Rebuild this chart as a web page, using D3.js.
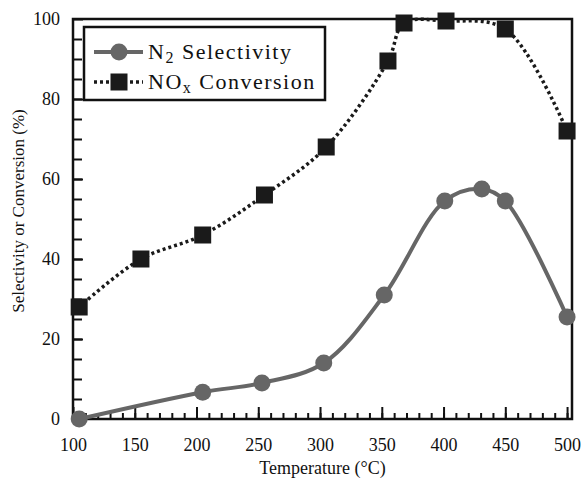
<!DOCTYPE html>
<html>
<head>
<meta charset="utf-8">
<script src="https://cdn.jsdelivr.net/npm/d3@7"></script>
</head>
<body style="margin:0; background:#fff">
<div class="canvas"></div>
<script>
// values
const noxTemps = [105, 155, 205, 255, 305, 355, 368, 402, 450, 500]
const noxConversion = [28, 40, 46, 56, 68, 89.5, 99, 99.5, 97.5, 72]
const n2Temps = [105, 205, 253, 303, 352, 401, 431, 450, 500]
const n2Selectivity = [0, 6.7, 9, 14, 31, 54.5, 57.5, 54.5, 25.5]
const xTicks = [100, 150, 200, 250, 300, 350, 400, 450, 500]
const yTicks = [0, 20, 40, 60, 80, 100]

const serif = '"Liberation Serif"'
const width = 581
const height = 480
const margin = {top: 19, right: 9, bottom: 61, left: 73}

const svg = d3.select('.canvas')
  .append('svg')
  .attr('width', width)
  .attr('height', height)

const x = d3.scaleLinear()
  .domain([100, 504])
  .range([margin.left, width - margin.right])

const y = d3.scaleLinear()
  .domain([0, 100])
  .range([height - margin.bottom, margin.top])

// minor ticks first, then major ones, all pointing inward
const xAxis = svg.append('g')
  .attr('transform', `translate(0, ${y(0)})`)

xAxis.call(d3.axisBottom(x).tickValues(d3.range(110, 505, 10)).tickSize(-6).tickFormat(''))
xAxis.call(g => g.append('g').call(d3.axisBottom(x).tickValues(xTicks).tickSize(-12).tickPadding(19)))
xAxis.selectAll('.tick line').attr('stroke', '#111').attr('stroke-width', 2)
xAxis.selectAll('.domain').remove()
xAxis.selectAll('text').style('font-family', serif).attr('font-size', 18).attr('fill', '#111')

const yAxis = svg.append('g')
  .attr('transform', `translate(${x(100)}, 0)`)

yAxis.call(d3.axisLeft(y).tickValues(d3.range(5, 100, 5)).tickSize(-9).tickFormat(''))
yAxis.call(g => g.append('g').call(d3.axisLeft(y).tickValues(yTicks).tickSize(-10).tickPadding(13)))
yAxis.selectAll('.tick line').attr('stroke', '#111').attr('stroke-width', 2)
yAxis.selectAll('.domain').remove()
yAxis.selectAll('text').style('font-family', serif).attr('font-size', 18).attr('fill', '#111')

// frame
svg.append('rect')
  .attr('x', x(100))
  .attr('y', y(100))
  .attr('width', x.range()[1] - x(100))
  .attr('height', y(0) - y(100))
  .attr('fill', 'none')
  .attr('stroke', '#111')
  .attr('stroke-width', 2.5)

const n2Data = n2Temps.map((t, i) => ({t, v: n2Selectivity[i]}))
const noxData = noxTemps.map((t, i) => ({t, v: noxConversion[i]}))

const line = d3.line()
  .x(d => x(d.t))
  .y(d => y(d.v))
  .curve(d3.curveCatmullRom.alpha(0.5))

svg.append('path')
  .datum(noxData)
  .attr('d', line)
  .attr('fill', 'none')
  .attr('stroke', '#1a1a1a')
  .attr('stroke-width', 3.5)
  .attr('stroke-dasharray', '3 3')

svg.append('path')
  .datum(n2Data)
  .attr('d', line)
  .attr('fill', 'none')
  .attr('stroke', '#666')
  .attr('stroke-width', 4)

svg.selectAll('rect.nox')
  .data(noxData)
  .enter().append('rect')
  .attr('class', 'nox')
  .attr('x', d => x(d.t) - 8.5)
  .attr('y', d => y(d.v) - 8.5)
  .attr('width', 17)
  .attr('height', 17)
  .attr('fill', '#1a1a1a')

svg.selectAll('circle.n2')
  .data(n2Data)
  .enter().append('circle')
  .attr('class', 'n2')
  .attr('cx', d => x(d.t))
  .attr('cy', d => y(d.v))
  .attr('r', 8.5)
  .attr('fill', '#666')

// legend
const legend = svg.append('g')
  .attr('transform', 'translate(84, 27)')

legend.append('rect')
  .attr('width', 241)
  .attr('height', 73)
  .attr('fill', '#fff')
  .attr('stroke', '#111')
  .attr('stroke-width', 2.5)

legend.append('line')
  .attr('x1', 10).attr('x2', 59).attr('y1', 25).attr('y2', 25)
  .attr('stroke', '#666').attr('stroke-width', 4)
legend.append('circle')
  .attr('cx', 35).attr('cy', 25).attr('r', 8.5).attr('fill', '#666')

legend.append('line')
  .attr('x1', 10).attr('x2', 59).attr('y1', 55).attr('y2', 55)
  .attr('stroke', '#1a1a1a').attr('stroke-width', 3.5).attr('stroke-dasharray', '3 3')
legend.append('rect')
  .attr('x', 26.5).attr('y', 46.5).attr('width', 17).attr('height', 17).attr('fill', '#1a1a1a')

const t1 = legend.append('text')
  .attr('x', 64).attr('y', 32)
  .style('font-family', serif)
  .attr('font-size', 22)
  .attr('fill', '#111')
  .attr('letter-spacing', 1.5)
t1.append('tspan').text('N')
t1.append('tspan').text('2').attr('font-size', 16).attr('dy', 4)
t1.append('tspan').text(' Selectivity').attr('dy', -4)

const t2 = legend.append('text')
  .attr('x', 64).attr('y', 62)
  .style('font-family', serif)
  .attr('font-size', 22)
  .attr('fill', '#111')
  .attr('letter-spacing', 1.5)
t2.append('tspan').text('NO')
t2.append('tspan').text('x').attr('font-size', 16).attr('dy', 4)
t2.append('tspan').text(' Conversion').attr('dy', -4)

// axis titles
svg.append('text')
  .attr('x', (x(100) + x.range()[1]) / 2)
  .attr('y', 474)
  .attr('text-anchor', 'middle')
  .style('font-family', serif)
  .attr('font-size', 18)
  .attr('fill', '#111')
  .text('Temperature (°C)')

svg.append('text')
  .attr('transform', `translate(24, ${y(50) - 8}) rotate(-90)`)
  .attr('text-anchor', 'middle')
  .style('font-family', serif)
  .attr('font-size', 17)
  .attr('fill', '#111')
  .text('Selectivity or Conversion (%)')
</script>
</body>
</html>
